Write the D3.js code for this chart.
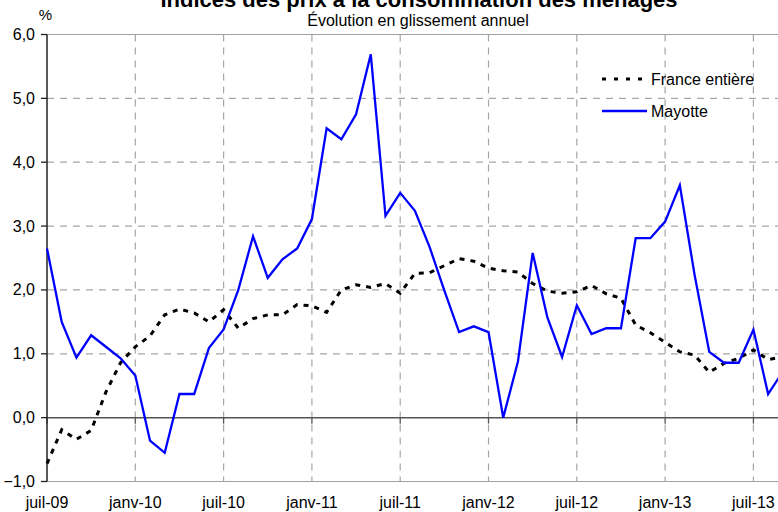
<!DOCTYPE html>
<html>
<head>
<meta charset="utf-8">
<script src="https://cdn.jsdelivr.net/npm/d3@7"></script>
<style>
  html, body { margin: 0; padding: 0; background: #fff; }
  svg { display: block; font-family: "Liberation Sans", Arial, sans-serif; }
</style>
</head>
<body>
<svg id="chart" width="778" height="512"></svg>
<script>
// ---- data ----
const monthNames = ["juil","août","sept","oct","nov","déc","janv","févr","mars","avr","mai","juin"];
const categories = [];
for (let i = 0; i <= 50; i++) {
  const m = (i) % 12;
  const yr = 9 + Math.floor((i + 6) / 12);
  categories.push(monthNames[m] + "-" + String(yr).padStart(2, "0"));
}
const franceEntiere = [
  -0.72, -0.19, -0.34, -0.20, 0.40, 0.86, 1.11, 1.28, 1.61, 1.70,
  1.64, 1.50, 1.69, 1.40, 1.55, 1.61, 1.61, 1.77, 1.75, 1.65,
  2.00, 2.08, 2.04, 2.10, 1.95, 2.26, 2.27, 2.38, 2.49, 2.45,
  2.34, 2.30, 2.28, 2.10, 1.98, 1.95, 1.97, 2.07, 1.94, 1.87,
  1.45, 1.33, 1.18, 1.03, 0.98, 0.71, 0.85, 0.93, 1.06, 0.91,
  0.95
];
const mayotte = [
  2.65, 1.50, 0.94, 1.29, 1.11, 0.93, 0.66, -0.36, -0.55, 0.37,
  0.37, 1.09, 1.38, 2.00, 2.84, 2.19, 2.48, 2.65, 3.11, 4.53,
  4.36, 4.75, 5.69, 3.16, 3.52, 3.24, 2.67, 1.99, 1.34, 1.43,
  1.34, 0.00, 0.88, 2.58, 1.57, 0.95, 1.76, 1.31, 1.40, 1.40,
  2.81, 2.81, 3.07, 3.64, 2.24, 1.03, 0.86, 0.86, 1.38, 0.37,
  0.72
];
const yTicks = [-1, 0, 1, 2, 3, 4, 5, 6];
const xTickEvery = 6;
const seriesNames = ["France entière", "Mayotte"];
const title = "Indices des prix à la consommation des ménages";
const subtitle = "Évolution en glissement annuel";

// ---- layout ----
const svg = d3.select("#chart");
const pLeft = 47, pTop = 34.5, pBottom = 481.5;
const step = 14.717;
const x = d3.scaleLinear().domain([0, categories.length - 1]).range([pLeft, pLeft + step * (categories.length - 1)]);
const y = d3.scaleLinear().domain([-1, 6]).range([pBottom, pTop]);
const pRight = x(categories.length - 1);
const fmt = v => d3.format(".1f")(v).replace(".", ",");

// gridlines horizontal
svg.append("g").selectAll("line").data(yTicks.filter(v => v !== 0 && v !== -1 && v !== 6)).join("line")
  .attr("x1", pLeft).attr("x2", pRight)
  .attr("y1", d => y(d)).attr("y2", d => y(d))
  .attr("stroke", "#a6a6a6").attr("stroke-width", 1.2).attr("stroke-dasharray", "7,6");

// vertical gridlines
const xTickIdx = d3.range(0, categories.length, xTickEvery);
svg.append("g").selectAll("line").data(xTickIdx.filter(i => i > 0)).join("line")
  .attr("x1", d => x(d)).attr("x2", d => x(d))
  .attr("y1", pTop).attr("y2", pBottom)
  .attr("stroke", "#a6a6a6").attr("stroke-width", 1.2).attr("stroke-dasharray", "7,6");

// top & bottom borders
svg.append("line").attr("x1", pLeft).attr("x2", pRight).attr("y1", y(6)).attr("y2", y(6))
  .attr("stroke", "#a0a0a0").attr("stroke-width", 1.2);
svg.append("line").attr("x1", pLeft).attr("x2", pRight).attr("y1", y(-1)).attr("y2", y(-1))
  .attr("stroke", "#a0a0a0").attr("stroke-width", 1.2);

// zero axis
svg.append("line").attr("x1", pLeft).attr("x2", pRight).attr("y1", y(0)).attr("y2", y(0))
  .attr("stroke", "#555").attr("stroke-width", 1.5);
svg.append("g").selectAll("line").data(xTickIdx).join("line")
  .attr("x1", d => x(d)).attr("x2", d => x(d))
  .attr("y1", y(0)).attr("y2", y(0) + 6)
  .attr("stroke", "#555").attr("stroke-width", 1.3);

// y axis
svg.append("line").attr("x1", pLeft).attr("x2", pLeft).attr("y1", pTop).attr("y2", pBottom)
  .attr("stroke", "#222").attr("stroke-width", 1.5);
svg.append("g").selectAll("line").data(yTicks).join("line")
  .attr("x1", pLeft - 6).attr("x2", pLeft)
  .attr("y1", d => y(d)).attr("y2", d => y(d))
  .attr("stroke", "#222").attr("stroke-width", 1.3);
svg.append("g").selectAll("text").data(yTicks).join("text")
  .attr("x", 35).attr("y", d => y(d) + 5.5)
  .attr("text-anchor", "end").attr("font-size", 16).attr("fill", "#000")
  .text(d => fmt(d));

// x labels
svg.append("g").selectAll("text").data(xTickIdx).join("text")
  .attr("x", d => x(d)).attr("y", 508)
  .attr("text-anchor", "middle").attr("font-size", 16).attr("fill", "#000")
  .text(d => categories[d]);

// lines
const line = d3.line().x((d, i) => x(i)).y(d => y(d));
svg.append("path").datum(franceEntiere).attr("d", line)
  .attr("fill", "none").attr("stroke", "#000").attr("stroke-width", 3)
  .attr("stroke-dasharray", "5,6");
svg.append("path").datum(mayotte).attr("d", line)
  .attr("fill", "none").attr("stroke", "#0000ff").attr("stroke-width", 2.3)
  .attr("stroke-linejoin", "miter");

// legend
const lg = svg.append("g");
lg.append("line").attr("x1", 602).attr("x2", 647).attr("y1", 79).attr("y2", 79)
  .attr("stroke", "#000").attr("stroke-width", 3).attr("stroke-dasharray", "4,8");
lg.append("text").attr("x", 651).attr("y", 84.5).attr("font-size", 16).text(seriesNames[0]);
lg.append("line").attr("x1", 602).attr("x2", 647).attr("y1", 111).attr("y2", 111)
  .attr("stroke", "#0000ff").attr("stroke-width", 2.3);
lg.append("text").attr("x", 651).attr("y", 116.5).attr("font-size", 16).text(seriesNames[1]);

// titles
svg.append("text").attr("x", 419).attr("y", 6.5).attr("text-anchor", "middle")
  .attr("font-size", 22).attr("font-weight", "bold").text(title);
svg.append("text").attr("x", 418).attr("y", 26).attr("text-anchor", "middle")
  .attr("font-size", 16).text(subtitle);
svg.append("text").attr("x", 45.5).attr("y", 20).attr("text-anchor", "middle")
  .attr("font-size", 15).text("%");
</script>
</body>
</html>
